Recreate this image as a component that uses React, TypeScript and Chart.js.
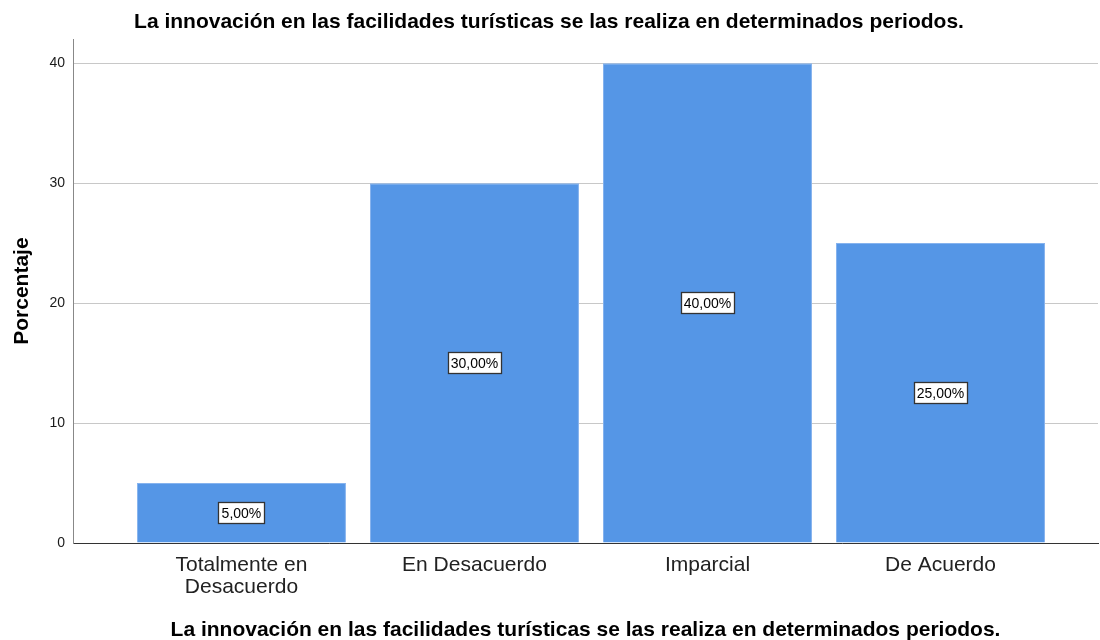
import React, { useEffect, useRef } from "react";
import { Chart, registerables } from "chart.js";

Chart.register(...registerables);

const categories: string[][] = [
  ["Totalmente en", "Desacuerdo"],
  ["En Desacuerdo"],
  ["Imparcial"],
  ["De Acuerdo"],
];
const values: number[] = [5, 30, 40, 25];
const yTicks: number[] = [0, 10, 20, 30, 40];
const titleText = "La innovación en las facilidades turísticas se las realiza en determinados periodos.";
const yTitle = "Porcentaje";

const FONT = "'Liberation Sans', Arial, sans-serif";

const labelPlugin = {
  id: "boxLabels",
  afterDatasetsDraw(chart: any) {
    const ctx = chart.ctx;
    const meta = chart.getDatasetMeta(0);
    ctx.save();
    ctx.font = `14px ${FONT}`;
    ctx.textAlign = "center";
    ctx.textBaseline = "middle";
    meta.data.forEach((bar: any, i: number) => {
      const { x, y, base } = bar.getProps(["x", "y", "base"], true);
      const cy = (y + base) / 2;
      const text = values[i].toFixed(2).replace(".", ",") + "%";
      const w = Math.round(ctx.measureText(text).width + 6);
      const h = 21;
      const left = Math.round(x - w / 2) + 0.5;
      const top = Math.round(cy - h / 2) + 0.5;
      ctx.fillStyle = "#ffffff";
      ctx.fillRect(left, top, w, h);
      ctx.strokeStyle = "#333333";
      ctx.lineWidth = 1.3;
      ctx.strokeRect(left, top, w, h);
      ctx.fillStyle = "#000000";
      ctx.fillText(text, x, cy + 1);
    });
    ctx.restore();
  },
};

export default function App() {
  const ref = useRef<HTMLCanvasElement | null>(null);

  useEffect(() => {
    if (!ref.current) return;
    const chart = new Chart(ref.current, {
      type: "bar",
      data: {
        datasets: [
          {
            data: values.map((v, i) => ({ x: i, y: v })),
            backgroundColor: "#5596e6",
            borderColor: "#86b3ee",
            borderWidth: 1,
            categoryPercentage: 1,
            barPercentage: 0.897,
          },
        ],
      },
      options: {
        animation: false,
        responsive: false,
        layout: { padding: { top: 0, right: 2, bottom: -3, left: 0 } },
        plugins: {
          legend: { display: false },
          tooltip: { enabled: false },
          title: {
            display: true,
            text: titleText,
            color: "#000000",
            font: { family: FONT, size: 21, weight: "bold" },
            padding: { top: 10, bottom: 4 },
          },
        },
        scales: {
          x: {
            type: "linear",
            offset: false,
            min: -0.723,
            max: 3.676,
            afterBuildTicks: (scale: any) => {
              scale.ticks = categories.map((_, i) => ({ value: i }));
            },
            afterFit: (scale: any) => {
              scale.height = 100;
            },
            ticks: {
              autoSkip: false,
              maxRotation: 0,
              padding: 11,
              color: "#222222",
              font: { family: FONT, size: 21, lineHeight: 1.05 },
              callback: (v: any) => categories[v] ?? "",
            },
            grid: { display: false, drawTicks: false },
            border: { display: true, color: "#333333", width: 1 },
            title: {
              display: true,
              text: titleText,
              color: "#000000",
              font: { family: FONT, size: 21, weight: "bold" },
              padding: { top: 0, bottom: 0 },
            },
          },
          y: {
            min: 0,
            max: 42,
            afterBuildTicks: (scale: any) => {
              scale.ticks = yTicks.map((v) => ({ value: v }));
            },
            afterFit: (scale: any) => {
              scale.width = 73;
            },
            ticks: {
              padding: 8,
              color: "#1a1a1a",
              font: { family: FONT, size: 14 },
            },
            grid: { color: "#c8c8c8", lineWidth: 1, drawTicks: false },
            border: { display: true, color: "#888888", width: 1 },
            title: {
              display: true,
              text: yTitle,
              color: "#000000",
              font: { family: FONT, size: 21, weight: "bold" },
              padding: { top: 10, bottom: 0 },
            },
          },
        },
      },
      plugins: [labelPlugin],
    } as any);
    return () => chart.destroy();
  }, []);

  return (
    <div style={{ position: "fixed", left: 0, top: 0, width: 1100, height: 640, background: "#ffffff" }}>
      <canvas ref={ref} width={1100} height={640} />
    </div>
  );
}
